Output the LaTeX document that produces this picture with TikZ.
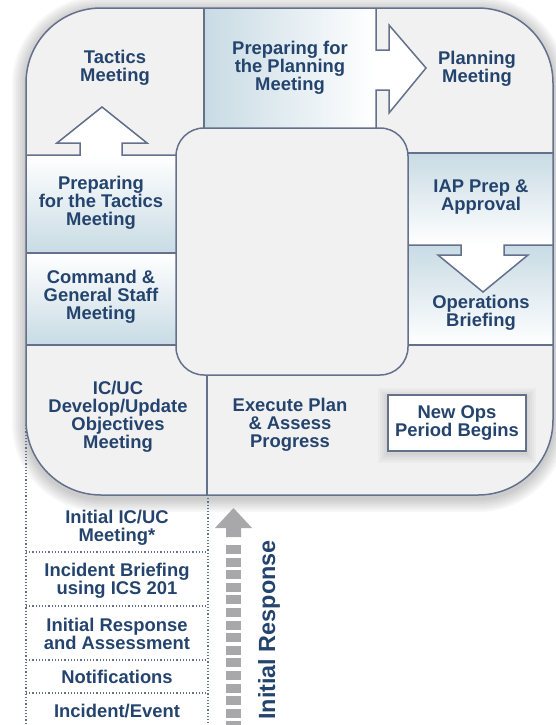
\documentclass[tikz,border=0pt]{standalone}
\usepackage{fontspec}
\setmainfont{Liberation Sans}
\usepackage{tikz}
\usetikzlibrary{shapes}
\definecolor{frame}{RGB}{100,112,140}
\definecolor{panel}{RGB}{241,241,242}
\definecolor{steel}{RGB}{200,219,228}
\definecolor{ink}{RGB}{36,68,110}
\definecolor{arrowgray}{RGB}{168,168,170}
\tikzstyle{stage} = [align=center, text=ink, inner sep=0pt,
    font=\fontsize{9.2}{9}\selectfont\bfseries]
\tikzstyle{edge} = [draw=frame, line width=0.75pt]
\tikzstyle{listline} = [frame, densely dotted, line width=0.6pt]

\begin{document}
\begin{tikzpicture}[x=0.5pt, y=-0.5pt]
  \useasboundingbox (0,0) rectangle (556,725);
  \foreach \w in {2,4,...,14}
    \draw[black, opacity=0.03, line width=\w pt, rounded corners=37.5pt] (26,10) rectangle (553,498);
  \fill[panel, rounded corners=37.5pt] (26,8) rectangle (553,495);

  \draw[listline] (26,425) -- (26,725);
  \draw[listline] (208,495) -- (208,725);
  \foreach \y in {552,606,660,693}
    \draw[listline] (26,\y) -- (208,\y);

  \shade[left color=steel, right color=white] (204,8) rectangle (376,128);
  \fill[white] (376,50) -- (389,50) -- (389,25) -- (426,68) -- (389,113) -- (389,90) -- (376,90) -- cycle;
  \draw[edge] (204,8) -- (204,128);
  \draw[edge] (376,8) -- (376,50) -- (389,50) -- (389,25) -- (426,68) -- (389,113) -- (389,90) -- (376,90) -- (376,128);

  \shade[top color=white, bottom color=steel] (26,155) rectangle (176,253);
  \fill[white] (80,155) -- (80,143) -- (57,143) -- (102,107) -- (147,143) -- (122,143) -- (122,155) -- cycle;
  \draw[edge] (26,155) -- (80,155) -- (80,143) -- (57,143) -- (102,107) -- (147,143) -- (122,143) -- (122,155) -- (176,155);
  \shade[top color=white, bottom color=steel] (26,253) rectangle (176,345);
  \draw[edge] (26,253) -- (176,253);
  \draw[edge] (26,345) -- (176,345);

  \shade[top color=steel, bottom color=white] (408,153) rectangle (553,245);
  \draw[edge] (408,153) -- (553,153);
  \shade[top color=steel, bottom color=white] (408,245) rectangle (553,345);
  \fill[white] (461,245) -- (461,255) -- (438,255) -- (483,292) -- (528,255) -- (504,255) -- (504,245) -- cycle;
  \draw[edge] (408,245) -- (461,245) -- (461,255) -- (438,255) -- (483,292) -- (528,255) -- (504,255) -- (504,245) -- (553,245);
  \draw[edge] (408,345) -- (553,345);

  \filldraw[edge, fill=panel, rounded corners=14pt] (176,128) rectangle (408,375);
  \draw[edge] (207,375) -- (207,495);
  \draw[edge, rounded corners=37.5pt] (26,8) rectangle (553,495);

  \foreach \w in {2,4,6,8,10}
    \draw[black, opacity=0.025, line width=\w pt] (388,398) rectangle (526,453);

  \node[stage] (tactics) at (115,68) {Tactics\\Meeting};
  \node[stage] (prepplan) at (290,68) {Preparing for\\the Planning\\Meeting};
  \node[stage] (planning) at (477,69) {Planning\\Meeting};
  \node[stage] (preptac) at (101,203) {Preparing\\for the Tactics\\Meeting};
  \node[stage] (cgs) at (101,297) {Command \&\\General Staff\\Meeting};
  \node[stage] (iap) at (481,197) {IAP Prep \&\\Approval};
  \node[stage] (opsbrief) at (481,313) {Operations\\Briefing};
  \node[stage] (objectives) at (118,417) {IC/UC\\Develop/Update\\Objectives\\Meeting};
  \node[stage] (execute) at (290,425) {Execute Plan\\\& Assess\\Progress};
  \node[stage, edge, fill=white, minimum width=69pt, minimum height=28pt] (newops) at (457,423) {New Ops\\Period Begins};

  \node[stage] (icuc) at (117,528) {Initial IC/UC\\Meeting*};
  \node[stage] (briefing) at (117,581) {Incident Briefing\\using ICS 201};
  \node[stage] (initresp) at (117,634) {Initial Response\\and Assessment};
  \node[stage] (notif) at (117,677) {Notifications};
  \node[stage] (incident) at (117,711) {Incident/Event};

  \draw[arrowgray, line width=7.5pt, dash pattern=on 4.5pt off 1.8pt] (233.5,545) -- (233.5,725);
  \fill[arrowgray] (226,537) -- (226,528) -- (215,528) -- (233.5,508) -- (252,528) -- (241,528) -- (241,537) -- cycle;
  \node[stage, font=\fontsize{11.7}{12}\selectfont\bfseries, rotate=90] (irlabel) at (269,630) {Initial Response};
\end{tikzpicture}
\end{document}
